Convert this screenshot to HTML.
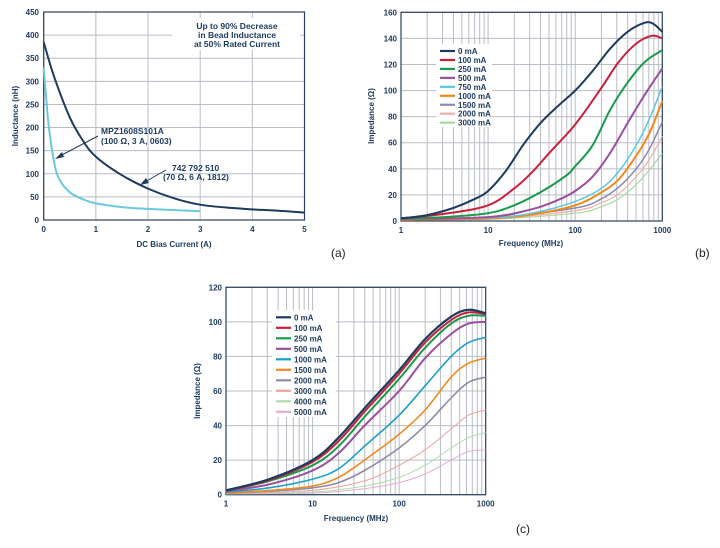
<!DOCTYPE html><html><head><meta charset="utf-8"><style>
body{margin:0;background:#fff;width:720px;height:543px;overflow:hidden}
svg{font-family:"Liberation Sans",sans-serif}
.t{font-size:8px;font-weight:bold;fill:#1d3a5f}
.a{font-size:8.5px;font-weight:bold;fill:#1d3a5f}
.lbl{font-size:12px;fill:#222}
</style></head><body>
<svg id="s" width="720" height="543" viewBox="0 0 720 543">
<g id="grid"></g>
<!-- (a) annotations -->
<rect x="172" y="18" width="128" height="32" fill="#fff"/>
<text class="a" text-anchor="middle" x="237" y="29">Up to 90% Decrease</text>
<text class="a" text-anchor="middle" x="237" y="38">in Bead Inductance</text>
<text class="a" text-anchor="middle" x="237" y="47">at 50% Rated Current</text>
<g id="curves"></g>
<text class="a" x="101" y="134">MPZ1608S101A</text>
<text class="a" x="101" y="144">(100 Ω, 3 A, 0603)</text>
<text class="a" x="172" y="171">742 792 510</text>
<text class="a" x="163" y="180">(70 Ω, 6 A, 1812)</text>
<line x1="98" y1="136" x2="58" y2="157" stroke="#1d3a5f" stroke-width="1"/>
<polygon points="55,159 62,152 64,157" fill="#1d3a5f"/>
<line x1="166" y1="170" x2="143" y2="183" stroke="#1d3a5f" stroke-width="1"/>
<polygon points="140,185 146,178 149,183" fill="#1d3a5f"/>
<text class="t" x="174" y="247" text-anchor="middle">DC Bias Current (A)</text>
<text class="t" transform="translate(18,116) rotate(-90)" text-anchor="middle">Inductance (nH)</text>
<text class="t" x="531" y="246" text-anchor="middle">Frequency (MHz)</text>
<text class="t" transform="translate(374,116) rotate(-90)" text-anchor="middle">Impedance (Ω)</text>
<text class="t" x="356" y="521" text-anchor="middle">Frequency (MHz)</text>
<text class="t" transform="translate(200,391) rotate(-90)" text-anchor="middle">Impedance (Ω)</text>
<text class="lbl" x="331" y="257">(a)</text>
<text class="lbl" x="695" y="257">(b)</text>
<text class="lbl" x="516" y="533">(c)</text>
<g id="leg"></g>
</svg>
<script>
var NS="http://www.w3.org/2000/svg",G=document.getElementById('grid'),C=document.getElementById('curves'),L=document.getElementById('leg');
function el(p,t,a,txt){var e=document.createElementNS(NS,t);for(var k in a)e.setAttribute(k,a[k]);if(txt!=null)e.textContent=txt;p.appendChild(e);return e}
function path(pts,X,Y){var P=pts.map(function(p){return[X(p[0]),Y(p[1])]}),d="M"+P[0][0].toFixed(1)+","+P[0][1].toFixed(1);
for(var i=0;i<P.length-1;i++){var p0=P[i-1]||P[i],p1=P[i],p2=P[i+1],p3=P[i+2]||P[i+1];
d+="C"+(p1[0]+(p2[0]-p0[0])/6).toFixed(1)+","+(p1[1]+(p2[1]-p0[1])/6).toFixed(1)+" "+(p2[0]-(p3[0]-p1[0])/6).toFixed(1)+","+(p2[1]-(p3[1]-p1[1])/6).toFixed(1)+" "+p2[0].toFixed(1)+","+p2[1].toFixed(1)}return d}
var gc="#b9bdc5",fc="#2a3f5c";
var ax=function(v){return 43.7+v*52.16},ay=function(v){return 220-v*0.4622};
for(var i=0;i<=5;i++){el(G,'line',{x1:ax(i),x2:ax(i),y1:12,y2:220,stroke:gc,'stroke-width':1});el(G,'text',{class:'t',x:ax(i),y:232,'text-anchor':'middle'},i)}
for(var v=0;v<=450;v+=50){el(G,'line',{x1:43.7,x2:304.5,y1:ay(v),y2:ay(v),stroke:gc,'stroke-width':1});el(G,'text',{class:'t',x:39,y:ay(v)+3,'text-anchor':'end'},v)}
el(G,'rect',{x:43.7,y:12,width:260.8,height:208,fill:'none',stroke:fc,'stroke-width':1.2});
el(C,'path',{d:path([[0,330],[0.05,260],[0.1,200],[0.2,125],[0.3,88],[0.5,60],[0.75,45],[1,36],[1.5,28],[2,24],[3,19]],ax,ay),fill:'none',stroke:'#6cc8dc','stroke-width':2});
el(C,'path',{d:path([[0,385],[0.2,310],[0.5,222],[0.75,172],[1,137],[1.5,97],[2,68],[2.5,47],[3,33],[3.5,27],[4,23],[4.5,20],[5,16]],ax,ay),fill:'none',stroke:'#1d3a5f','stroke-width':2});
function logGrid(x0,x1,y0,y1,max,step){var X=function(f){return x0+f*(x1-x0)/3},Y=function(z){return y1-z*(y1-y0)/max};
for(var d=0;d<3;d++)for(var m=1;m<10;m++){var x=X(d+Math.log10(m));el(G,'line',{x1:x,x2:x,y1:y0,y2:y1,stroke:gc,'stroke-width':1})}
[1,10,100,1000].forEach(function(v,i){el(G,'text',{class:'t',x:X(i),y:y1+12,'text-anchor':'middle'},v)});
for(var z=0;z<=max;z+=step){el(G,'line',{x1:x0,x2:x1,y1:Y(z),y2:Y(z),stroke:gc,'stroke-width':1});el(G,'text',{class:'t',x:x0-4,y:Y(z)+3,'text-anchor':'end'},z)}
el(G,'rect',{x:x0,y:y0,width:x1-x0,height:y1-y0,fill:'none',stroke:fc,'stroke-width':1.2});return[X,Y]}
var b=logGrid(401,662.3,12.3,221,160,20);
var B=[["0 mA","#1d3a5f",2,[[0,2],[0.3,4.5],[0.6,10],[0.85,17],[1,23],[1.2,38],[1.4,58],[1.6,75],[1.8,88],[2,100],[2.2,115],[2.4,132],[2.6,145],[2.8,152],[2.9,151],[3,145]]],
["100 mA","#c8203a",2,[[0,2],[0.5,5.5],[1,12],[1.3,25],[1.5,37],[1.7,52],[2,74],[2.3,102],[2.5,122],[2.7,136],[2.88,142],[3,140]]],
["250 mA","#1a9a4a",2,[[0,2],[0.5,3],[1,6],[1.3,12],[1.6,22],[1.9,35],[2,42],[2.2,58],[2.4,85],[2.6,106],[2.8,122],[3,131]]],
["500 mA","#9b4fa0",2,[[0,1.5],[1,3],[1.5,9],[1.8,16],[2,23],[2.2,34],[2.4,52],[2.6,75],[2.8,97],[3,117]]],
["750 mA","#5cc8e0",1.5,[[0,1.5],[1,2.5],[1.5,6],[2,15],[2.3,25],[2.5,38],[2.7,58],[2.85,78],[3,103]]],
["1000 mA","#f08a20",2,[[0,1],[1,2],[1.5,5],[2,12],[2.3,22],[2.5,32],[2.7,50],[2.85,67],[3,92]]],
["1500 mA","#8a8aae",1.5,[[0,1],[1,2],[2,10],[2.3,17],[2.5,26],[2.7,40],[2.85,55],[3,76]]],
["2000 mA","#f0b0a8",1.2,[[0,1],[1,1.5],[2,8],[2.3,14],[2.5,21],[2.7,34],[2.85,47],[3,65]]],
["3000 mA","#a8d8a0",1.2,[[0,1],[1,1.2],[2,6],[2.3,11],[2.5,17],[2.7,28],[2.85,39],[3,52]]]];
el(L,'rect',{x:436,y:44,width:56,height:83,fill:'#fff'});
B.slice().reverse().forEach(function(s){el(C,'path',{d:path(s[3],b[0],b[1]),fill:'none',stroke:s[1],'stroke-width':s[2]})});
B.forEach(function(s,i){var y=51+i*8.96;el(L,'line',{x1:440,x2:455,y1:y,y2:y,stroke:s[1],'stroke-width':2.2});el(L,'text',{class:'t',x:458,y:y+3},s[0])});
var c=logGrid(226,485.7,287.3,494.7,120,20);
var Cc=[["0 mA","#1d3a5f",2.2,[[0,2.5],[0.5,9],[1,20],[1.3,33],[1.6,50],[2,72],[2.3,90],[2.6,103],[2.8,107],[3,105]]],
["100 mA","#c8203a",2,[[0,2.3],[0.5,8.5],[1,19],[1.3,31],[1.6,48],[2,70],[2.3,88],[2.6,101],[2.8,105.5],[3,104.5]]],
["250 mA","#1a9a4a",2,[[0,2.2],[0.5,8],[1,17],[1.3,28],[1.6,45],[2,67],[2.3,85],[2.6,99],[2.8,103.5],[3,103.5]]],
["500 mA","#9b4fa0",2,[[0,2],[0.5,6],[1,14],[1.3,24],[1.6,40],[2,60],[2.3,79],[2.6,93],[2.8,99],[3,100]]],
["1000 mA","#1aa0c8",1.6,[[0,1.5],[0.5,4],[1,9],[1.3,15],[1.6,28],[2,46],[2.3,63],[2.6,80],[2.8,88],[3,91]]],
["1500 mA","#f08a20",1.6,[[0,1],[0.5,2.5],[1,5],[1.3,10],[1.6,20],[2,35],[2.3,49],[2.6,68],[2.8,76],[3,79]]],
["2000 mA","#8c8ca8",1.6,[[0,1],[0.5,2],[1,4],[1.3,7],[1.6,14],[2,27],[2.3,40],[2.6,56],[2.8,65],[3,68]]],
["3000 mA","#f0a0a0",1,[[0,0.5],[1,2.5],[1.6,8],[2,17],[2.3,26],[2.6,38],[2.8,46],[3,49]]],
["4000 mA","#b0dcb0",1,[[0,0.5],[1,1.5],[1.6,5],[2,10],[2.3,17],[2.6,27],[2.8,33],[3,36]]],
["5000 mA","#e0b0d0",1,[[0,0.5],[1,1],[1.6,3.5],[2,7],[2.3,12],[2.6,20],[2.8,25],[3,26]]]];
el(L,'rect',{x:272,y:310,width:64,height:107,fill:'#fff'});
Cc.slice().reverse().forEach(function(s){el(C,'path',{d:path(s[3],c[0],c[1]),fill:'none',stroke:s[1],'stroke-width':s[2]})});
Cc.forEach(function(s,i){var y=317.3+i*10.5;el(L,'line',{x1:276,x2:291,y1:y,y2:y,stroke:s[1],'stroke-width':2.2});el(L,'text',{class:'t',x:294,y:y+3},s[0])});
</script>
</body></html>
